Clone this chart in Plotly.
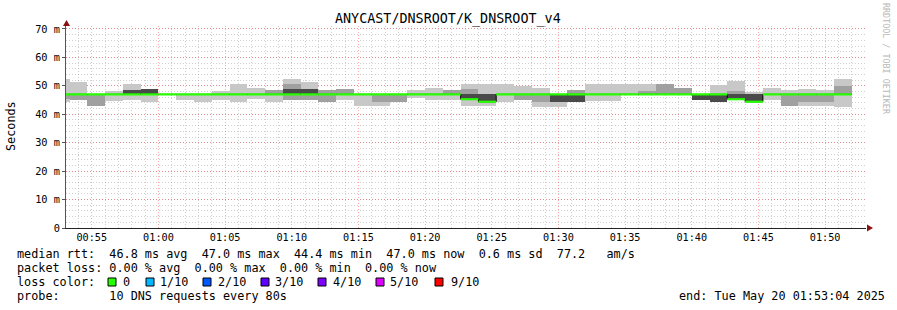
import plotly.graph_objects as go
from datetime import datetime, timedelta

# ---------------- data ----------------
first_step = "2025-05-20 00:52:00"   # start of first (partial) 80 s step
step_seconds = 80
view_start = "2025-05-20 00:53:04"
view_end = "2025-05-20 01:53:04"

median_ms = [47.0, 47.0, 47.0, 47.0, 47.0, 47.0, 47.0, 47.0, 47.0, 47.0,
             47.0, 47.0, 47.0, 47.0, 47.0, 47.0, 47.0, 47.0, 47.0, 47.0,
             47.0, 47.0, 47.0, 45.3, 44.4, 47.0, 47.0, 47.0, 47.0, 47.0,
             47.0, 47.0, 47.0, 47.0, 47.0, 47.0, 47.0, 47.0, 45.3, 44.4,
             47.0, 47.0, 47.0, 47.0, 47.0]

smoke_lo = [44.4, 45.0, 42.9, 44.7, 45.0, 44.4, 47.0, 45.0, 44.4, 45.0,
            44.4, 45.3, 44.4, 45.0, 44.9, 44.2, 45.0, 42.9, 42.9, 44.3,
            45.7, 45.0, 45.0, 42.9, 43.0, 44.4, 45.0, 42.7, 42.7, 44.4,
            44.6, 44.6, 47.0, 47.0, 47.0, 47.0, 45.0, 44.4, 45.0, 44.4,
            45.0, 42.8, 42.8, 42.8, 42.7]
smoke_hi = [52.4, 51.3, 47.0, 48.2, 50.5, 49.0, 47.0, 47.0, 47.0, 48.2,
            50.6, 49.4, 48.5, 52.4, 51.3, 48.5, 48.9, 47.0, 47.0, 47.0,
            48.5, 49.3, 48.5, 50.7, 50.7, 50.7, 49.9, 49.1, 47.0, 48.5,
            50.6, 50.6, 50.6, 50.6, 50.6, 49.4, 47.0, 50.3, 51.7, 48.0,
            49.4, 48.6, 48.9, 48.5, 52.4]

mid_lo = [45.5, 45.0, 42.9, None, None, None, None, None, None, None,
          None, None, 47.0, 45.0, 45.0, 44.2, 47.0, None, 44.4, 44.3,
          None, None, 47.0, 47.0, None, None, 45.0, 44.3, None, 47.0,
          None, None, None, 47.0, 47.0, 47.0, None, None, 47.0, None,
          None, 42.8, 44.4, 44.3, 47.0]
mid_hi = [47.0, 47.0, 47.0, None, None, None, None, None, None, None,
          None, None, 48.5, 50.6, 47.0, 48.5, 48.9, None, 47.0, 47.0,
          None, None, 48.5, 48.8, None, None, 47.0, 47.0, None, 48.5,
          None, None, None, 48.3, 50.6, 49.4, None, None, 48.3, None,
          None, 47.0, 47.0, 47.0, 50.1]

dark_lo = [None, None, None, None, 47.0, 47.0, None, None, None, None,
           None, None, None, 47.0, 47.0, None, None, None, None, None,
           None, None, None, 45.3, 44.4, None, None, None, 44.4, 44.4,
           None, None, None, None, None, None, 45.0, 44.4, 45.3, 44.4,
           None, None, None, None, None]
dark_hi = [None, None, None, None, 48.7, 49.0, None, None, None, None,
           None, None, None, 48.9, 48.9, None, None, None, None, None,
           None, None, None, 47.0, 47.0, None, None, None, 47.0, 47.0,
           None, None, None, None, None, None, 47.0, 47.0, 47.0, 47.0,
           None, None, None, None, None]

y_tick_vals = [0, 10, 20, 30, 40, 50, 60, 70]
y_tick_text = ["0", "10 m", "20 m", "30 m", "40 m", "50 m", "60 m", "70 m"]

title_text = "ANYCAST/DNSROOT/K_DNSROOT_v4"
legend_lines = [
    "median rtt:  46.8 ms avg  47.0 ms max  44.4 ms min  47.0 ms now  0.6 ms sd  77.2   am/s",
    "packet loss: 0.00 % avg  0.00 % max  0.00 % min  0.00 % now",
]
loss_labels = ["0", "1/10", "2/10", "3/10", "4/10", "5/10", "9/10"]
loss_colors = ["#26ff00", "#00b8ff", "#0059ff", "#5e00ff", "#7e00ff", "#dd00ff", "#ff0000"]
probe_text = "probe:       10 DNS requests every 80s"
end_text = "end: Tue May 20 01:53:04 2025"

# ---------------- geometry helpers ----------------
W, H = 897, 310
PL, PR, PT, PB = 66, 866, 26, 228
MONO = "DejaVu Sans Mono"


def px(x):
    return (x - PL) / (PR - PL)


def py(y):
    return (PB - y) / (PB - PT)


def nb(s):
    return s.replace(" ", "\u00a0")


t0 = datetime.strptime(first_step, "%Y-%m-%d %H:%M:%S")
n = len(median_ms)
starts = [t0 + timedelta(seconds=step_seconds * i) for i in range(n)]
centers = [s + timedelta(seconds=step_seconds / 2) for s in starts]
ends = [s + timedelta(seconds=step_seconds) for s in starts]


def band(lo, hi):
    base = [l if (l is not None and h is not None) else None for l, h in zip(lo, hi)]
    ht = [(h - l) if (l is not None and h is not None) else None for l, h in zip(lo, hi)]
    return base, ht


fig = go.Figure()
for lo, hi, col in [(smoke_lo, smoke_hi, "#c8c8c8"),
                    (mid_lo, mid_hi, "#a0a0a0"),
                    (dark_lo, dark_hi, "#4a4a4a")]:
    base, ht = band(lo, hi)
    fig.add_trace(go.Bar(x=centers, y=ht, base=base, width=[step_seconds * 1000] * n,
                         marker=dict(color=col, line=dict(width=0)),
                         hoverinfo="skip", showlegend=False))

# black median step line
fig.add_trace(go.Scatter(x=starts + [ends[-1]], y=median_ms + [median_ms[-1]],
                         mode="lines", line=dict(color="#000000", width=1, shape="hv"),
                         hoverinfo="skip", showlegend=False))
# loss-colored median segments
gx, gy = [], []
for s, e, m in zip(starts, ends, median_ms):
    gx += [s, e, None]
    gy += [m, m, None]
fig.add_trace(go.Scatter(x=gx, y=gy, mode="lines",
                         line=dict(color=loss_colors[0], width=2.2),
                         hoverinfo="skip", showlegend=False))

ann = []
ann.append(dict(text=nb(title_text), x=px(448), y=py(19), xref="paper", yref="paper",
                showarrow=False, xanchor="center", yanchor="middle",
                font=dict(family=MONO, size=13.4, color="#000")))
ann.append(dict(text="Seconds", x=px(11), y=py(126), xref="paper", yref="paper",
                showarrow=False, textangle=-90, xanchor="center", yanchor="middle",
                font=dict(family=MONO, size=11.8, color="#000")))
ann.append(dict(text=nb("RRDTOOL / TOBI OETIKER"), x=px(886), y=py(59), xref="paper", yref="paper",
                showarrow=False, textangle=90, xanchor="center", yanchor="middle",
                font=dict(family=MONO, size=8.4, color="#b8b8b8")))
row_y = [254, 268, 282, 296]
for i, line in enumerate(legend_lines):
    ann.append(dict(text=nb(line), x=px(15), y=py(row_y[i]), xref="paper", yref="paper",
                    showarrow=False, xanchor="left", yanchor="middle",
                    font=dict(family=MONO, size=11.8, color="#000")))
ann.append(dict(text=nb("loss color:"), x=px(15), y=py(row_y[2]), xref="paper", yref="paper",
                showarrow=False, xanchor="left", yanchor="middle",
                font=dict(family=MONO, size=11.8, color="#000")))
box_x = [108, 146, 203, 261, 318, 376, 435]
lab_x = [121, 158, 216, 273, 331, 388, 449]
shapes = []
for bx, lx, lab, col in zip(box_x, lab_x, loss_labels, loss_colors):
    shapes.append(dict(type="rect", xref="paper", yref="paper",
                       x0=px(bx), x1=px(bx + 8), y0=py(row_y[2] + 4), y1=py(row_y[2] - 4),
                       fillcolor=col, line=dict(color="#000", width=1)))
    ann.append(dict(text=lab, x=px(lx), y=py(row_y[2]), xref="paper", yref="paper",
                    showarrow=False, xanchor="left", yanchor="middle",
                    font=dict(family=MONO, size=11.8, color="#000")))
ann.append(dict(text=nb(probe_text), x=px(15), y=py(row_y[3]), xref="paper", yref="paper",
                showarrow=False, xanchor="left", yanchor="middle",
                font=dict(family=MONO, size=11.8, color="#000")))
ann.append(dict(text=nb(end_text), x=px(677), y=py(row_y[3]), xref="paper", yref="paper",
                showarrow=False, xanchor="left", yanchor="middle",
                font=dict(family=MONO, size=11.8, color="#000")))

# axis arrows
arrow_col = "#8b1010"
shapes.append(dict(type="path", xref="paper", yref="paper",
                   path=f"M {px(63)},{py(26)} L {px(66.5)},{py(20)} L {px(70)},{py(26)} Z",
                   fillcolor=arrow_col, line=dict(width=0)))
shapes.append(dict(type="path", xref="paper", yref="paper",
                   path=f"M {px(867)},{py(224.5)} L {px(873)},{py(228)} L {px(867)},{py(231.5)} Z",
                   fillcolor=arrow_col, line=dict(width=0)))

fig.update_layout(
    width=W, height=H, autosize=False,
    margin=dict(l=PL, r=W - PR, t=PT, b=H - PB, pad=0, autoexpand=False),
    paper_bgcolor="#ffffff", plot_bgcolor="#ffffff",
    barmode="overlay", bargap=0,
    showlegend=False,
    annotations=ann, shapes=shapes,
    xaxis=dict(type="date", range=[view_start, view_end], automargin=False,
               tick0="2025-05-20 00:55:00", dtick=300000, tickformat="%H:%M",
               showgrid=True, gridcolor="rgba(255,0,0,0.32)", griddash="1px,2px", gridwidth=1,
               minor=dict(dtick=60000, tick0="2025-05-20 00:55:00", showgrid=True,
                          gridcolor="rgba(110,110,110,0.32)", griddash="1px,2px", gridwidth=1),
               showline=True, linecolor="#222", linewidth=1,
               ticks="", tickfont=dict(family=MONO, size=10.2, color="#000"),
               zeroline=False, layer="above traces", fixedrange=True),
    yaxis=dict(range=[0, (PB - PT) / 2.843], tickvals=y_tick_vals, ticktext=y_tick_text,
               automargin=False,
               showgrid=True, gridcolor="rgba(255,0,0,0.32)", griddash="1px,2px", gridwidth=1,
               minor=dict(dtick=2, showgrid=True,
                          gridcolor="rgba(110,110,110,0.32)", griddash="1px,2px", gridwidth=1),
               showline=True, linecolor="#555", linewidth=1,
               ticks="outside", ticklen=3, tickcolor="#555",
               tickfont=dict(family=MONO, size=10.3, color="#000"),
               zeroline=False, layer="above traces", fixedrange=True),
)

fig.write_html("out.html")
